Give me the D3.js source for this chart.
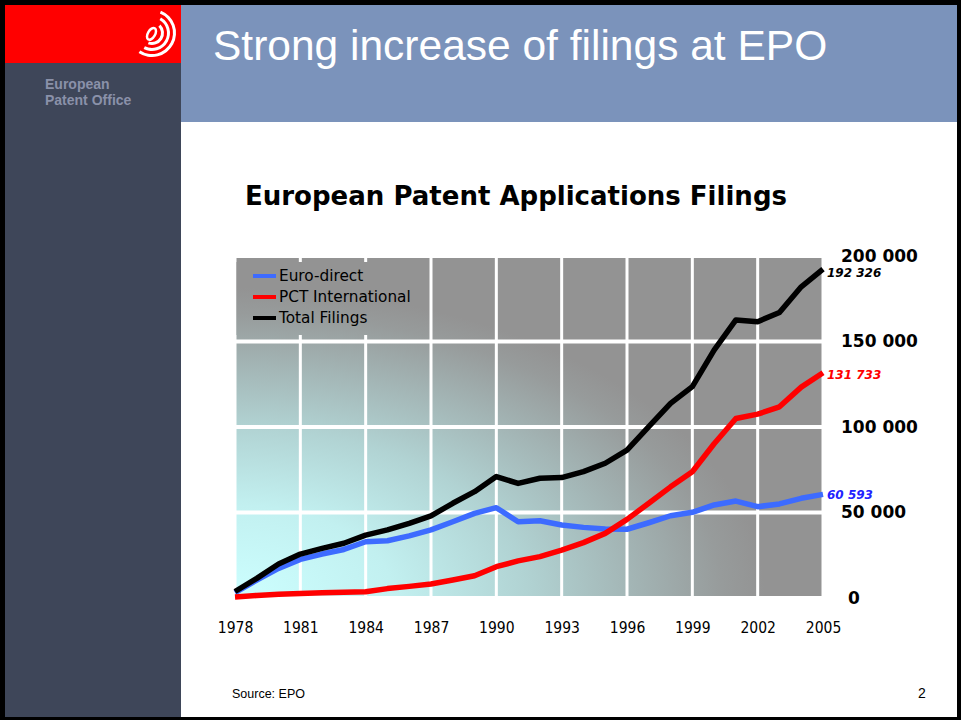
<!DOCTYPE html>
<html>
<head>
<meta charset="utf-8">
<script src="https://cdn.jsdelivr.net/npm/d3@7"></script>
<style>
  html, body { margin: 0; padding: 0; background: #fff; }
  svg { display: block; }
</style>
</head>
<body>
<svg id="slide" width="961" height="720"></svg>
<script>
// ---------- data ----------
const years = [1978,1979,1980,1981,1982,1983,1984,1985,1986,1987,1988,1989,1990,1991,1992,1993,1994,1995,1996,1997,1998,1999,2000,2001,2002,2003,2004,2005];
const euroDirect = [3200,10500,17300,22600,25700,28400,32900,33500,36300,39800,44600,49500,52800,44600,45200,42700,41300,40400,40200,44000,48100,50100,54400,56700,53400,55000,58300,60593];
const pctInternational = [600,1500,2200,2700,3000,3300,3600,5500,6800,8200,10500,13000,18300,21700,24200,28000,32400,37800,46000,55400,65000,73800,90200,105000,107500,111800,123300,131733];
const totalFilings = [3800,11500,19900,25700,29000,32000,36800,39800,43700,48000,55400,62200,71000,67000,70000,70400,73900,78800,86500,100200,113800,123600,145000,162600,161600,167000,182000,192326];
const seriesNames = ["Euro-direct", "PCT International", "Total Filings"];
const endLabels = ["60 593", "131 733", "192 326"];
const xTicks = [1978,1981,1984,1987,1990,1993,1996,1999,2002,2005];
const yTicks = [0,50000,100000,150000,200000];
const yTickLabels = ["0","50 000","100 000","150 000","200 000"];

// ---------- slide frame ----------
const svg = d3.select("#slide");
svg.append("rect").attr("x",0).attr("y",0).attr("width",961).attr("height",720).attr("fill","#000");
svg.append("rect").attr("x",5).attr("y",5).attr("width",952).attr("height",712).attr("fill","#fff");
svg.append("rect").attr("x",5).attr("y",63).attr("width",176).attr("height",654).attr("fill","#3e4659");
svg.append("rect").attr("x",5).attr("y",5).attr("width",177).attr("height",58).attr("fill","#ff0000");
svg.append("rect").attr("x",181).attr("y",5).attr("width",776).attr("height",117).attr("fill","#7b93bb");

// logo arcs
const logo = svg.append("g").attr("transform","translate(152,33)");
const arcGen = d3.arc();
[[10.5,45,200],[16.5,30,208],[22.5,22,214]].forEach(([r,a0,a1]) => {
  logo.append("path")
    .attr("d", arcGen({innerRadius:r-1.5, outerRadius:r+1.5, startAngle:a0*Math.PI/180, endAngle:a1*Math.PI/180}))
    .attr("fill","#fff");
});
logo.append("ellipse").attr("cx",0).attr("cy",1).attr("rx",3.6).attr("ry",6.5)
  .attr("transform","rotate(30)").attr("fill","none").attr("stroke","#fff").attr("stroke-width",2.5);

svg.append("text").attr("x",45).attr("y",89)
  .attr("font-family","'Liberation Sans', Arial, sans-serif").attr("font-weight","bold")
  .attr("font-size",14).attr("fill","#8a91a9").text("European");
svg.append("text").attr("x",45).attr("y",105)
  .attr("font-family","'Liberation Sans', Arial, sans-serif").attr("font-weight","bold")
  .attr("font-size",14).attr("fill","#8a91a9").text("Patent Office");

svg.append("text").attr("x",213).attr("y",60)
  .attr("font-family","'Liberation Sans', Arial, sans-serif")
  .attr("font-size",42.5).attr("fill","#fff").text("Strong increase of filings at EPO");

// chart title
svg.append("text").attr("x",245).attr("y",205)
  .attr("font-family","'DejaVu Sans', sans-serif").attr("font-weight","bold")
  .attr("font-size",26).attr("textLength",542).attr("lengthAdjust","spacingAndGlyphs")
  .attr("fill","#000").text("European Patent Applications Filings");

// ---------- chart ----------
const x = d3.scaleLinear().domain([1978,2005]).range([235,823]);
const y = d3.scaleLinear().domain([0,200000]).range([598,256]);

const defs = svg.append("defs");
const grad = defs.append("radialGradient").attr("id","bg")
  .attr("gradientUnits","userSpaceOnUse")
  .attr("cx",0).attr("cy",0).attr("r",1)
  .attr("gradientTransform",`translate(${x(1978)},${y(0)}) scale(530,310)`);
[[0,"#ccffff"],[0.3,"#c2f0f0"],[0.55,"#b1d3d3"],[0.75,"#a3b5b5"],[0.92,"#979b9b"],[1,"#939393"]]
  .forEach(([o,c]) => grad.append("stop").attr("offset",o).attr("stop-color",c));

const g = svg.append("g");
g.append("rect").attr("x",x(1978)).attr("y",y(200000))
  .attr("width",x(2005)-x(1978)).attr("height",y(0)-y(200000)).attr("fill","url(#bg)");

// grid lines
g.selectAll("line.vg").data(xTicks).join("line").attr("class","vg")
  .attr("x1",d=>x(d)).attr("x2",d=>x(d)).attr("y1",y(200000)).attr("y2",y(0))
  .attr("stroke","#fff").attr("stroke-width",3);
g.selectAll("line.hg").data(yTicks).join("line").attr("class","hg")
  .attr("x1",x(1978)).attr("x2",x(2005)).attr("y1",d=>y(d)).attr("y2",d=>y(d))
  .attr("stroke","#fff").attr("stroke-width",4);

// legend box (covers grid)
g.append("rect").attr("x",x(1978)+1.5).attr("y",y(200000)+6)
  .attr("width",x(1987)-x(1978)-5).attr("height",73).attr("fill","url(#bg)");

// lines
const colors = ["#3d6bff","#ff0000","#000000"];
const data = [euroDirect, pctInternational, totalFilings];
const line = d3.line().x((d,i)=>x(years[i])).y(d=>y(d));
data.forEach((vals,k) => {
  g.append("path").datum(vals).attr("d",line)
    .attr("fill","none").attr("stroke",colors[k]).attr("stroke-width",5.5)
    .attr("stroke-linejoin","round");
});

// legend
const legendY = [276,297,318];
seriesNames.forEach((name,k) => {
  g.append("line").attr("x1",253).attr("x2",276).attr("y1",legendY[k]).attr("y2",legendY[k])
    .attr("stroke",colors[k]).attr("stroke-width",4);
  g.append("text").attr("x",279).attr("y",legendY[k]).attr("dy","0.35em")
    .attr("font-family","'DejaVu Sans', sans-serif").attr("font-size",15.3)
    .attr("fill","#000").text(name);
});

// end labels
const labelColors = ["#2222ff","#ff0000","#000000"];
const endOffsets = [0,2,4];
data.forEach((vals,k) => {
  g.append("text").attr("x",x(2005)+4).attr("y",y(vals[vals.length-1])+endOffsets[k]).attr("dy","0.35em")
    .attr("font-family","'DejaVu Sans', sans-serif").attr("font-weight","bold").attr("font-style","italic")
    .attr("font-size",12).attr("fill",labelColors[k]).text(endLabels[k]);
});

// y axis labels (right)
const yAxis = d3.axisRight(y).tickValues(yTicks).tickSize(0).tickPadding(0)
  .tickFormat((d,i)=>yTickLabels[i]);
const ya = svg.append("g").attr("transform","translate(841,0)").call(yAxis);
ya.select(".domain").remove();
ya.selectAll("text").attr("font-family","'DejaVu Sans', sans-serif").attr("font-weight","bold")
  .attr("font-size",17).attr("fill","#000").attr("dx",d=>d===0?7:0);

// x axis labels
const xAxis = d3.axisBottom(x).tickValues(xTicks).tickSize(0).tickPadding(0).tickFormat(d3.format("d"));
const xa = svg.append("g").attr("transform","translate(0,622)").call(xAxis);
xa.select(".domain").remove();
xa.selectAll("text").attr("font-family","'DejaVu Sans Condensed', 'DejaVu Sans', sans-serif")
  .attr("font-size",15.5).attr("fill","#000");

// footer
svg.append("text").attr("x",232).attr("y",698)
  .attr("font-family","'Liberation Sans', Arial, sans-serif").attr("font-size",12.5)
  .attr("fill","#000").text("Source: EPO");
svg.append("text").attr("x",918).attr("y",698)
  .attr("font-family","'Liberation Sans', Arial, sans-serif").attr("font-size",14)
  .attr("fill","#000").text("2");
</script>
</body>
</html>
